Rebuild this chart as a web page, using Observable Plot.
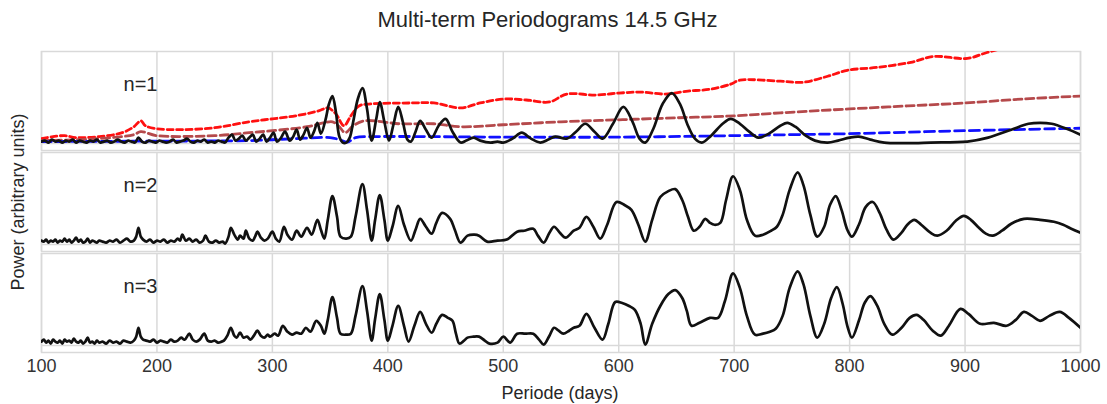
<!DOCTYPE html>
<html>
<head>
<meta charset="utf-8">
<script src="https://cdn.jsdelivr.net/npm/d3@7"></script>
<script src="https://cdn.jsdelivr.net/npm/@observablehq/plot@0.6"></script>
<style>
  html, body { margin: 0; padding: 0; background: #fff; }
  #wrap { position: relative; width: 1107px; height: 404px; font-family: "Liberation Sans", Arial, Helvetica, sans-serif; color: #262626; }
  #title { position: absolute; left: 0; width: 1095px; top: 8px; text-align: center; font-size: 22px; line-height: 24px; }
  #ylab { position: absolute; left: 18px; top: 202px; transform: translate(-50%, -50%) rotate(-90deg); font-size: 18px; white-space: nowrap; }
  #xlab { position: absolute; left: 560px; top: 393px; transform: translate(-50%, -50%); font-size: 18px; white-space: nowrap; }
  #chart { position: absolute; left: 0; top: 40px; }
</style>
</head>
<body>
<div id="wrap">
  <div id="title">Multi-term Periodograms 14.5 GHz</div>
  <div id="chart"></div>
  <div id="ylab">Power (arbitrary units)</div>
  <div id="xlab">Periode (days)</div>
</div>
<script>
// ---- data ----
const panels = ["n=1", "n=2", "n=3"];
const xTicks = [100, 200, 300, 400, 500, 600, 700, 800, 900, 1000];

const n1Period = [100,103,106,109,112,115,118,121,124,127,130,133,136,139,142,145,148,151,154,157,160,163,166,169,172,175,178,181,184,187,190,193,196,199,202,205,208,211,214,217,220,223,226,229,232,235,238,241,244,247,250,253,256,259,262,265,268,271,274,277,280,283,286,289,292,295,298,301,304,307,311,315,318,321,324,327,330,333,336,339,342,346,349,352,355,358,361,364,367,370,374,378,382,386,390,393,397,401,405,409,413,417,420,424,428,433,438,444,450,456,463,468,474,480,489,495,500,508,516,524,532,539,545,555,563,571,579,586,595,604,612,618,623,630,638,646,653,660,666,672,680,690,697,705,713,721,730,740,746,753,762,770,781,790,800,808,818,830,850,870,902,920,940,955,965,975,988,1000];
const n1Power  = [2,3,1,4,2,3,1,3,2,4,1,3,2,1,3,2,4,1,2,3,1,2,4,2,1,3,2,1,6,2,1,3,2,1,3,2,1,2,4,1,2,3,5,2,1,3,2,4,1,2,1,3,2,1,6,9,3,5,8,3,6,9,2,5,9,2,6,11,2,5,12,3,7,14,4,9,16,6,12,21,10,24,40,48,32,7,1,1,6,22,45,56,35,3,25,42,22,3,20,37,22,4,2,12,23,14,6,18,25,12,1,3,6,3,1,2,1,5,11,5,1,4,7,5,12,20,12,5,20,37,22,5,1,15,40,51,40,18,5,1,8,20,25,20,12,6,10,18,21,17,8,3,1,3,6,7,4,1,0.5,1,2,6,14,20,21,20,15,9];

const bluePeriod = [100,200,280,320,350,358,365,372,390,500,600,700,750,800,900,1000];
const bluePower  = [2,2.5,3,5,6,4,1.5,6,7,6.5,6.5,8,9,10,13,15.5];

const brownPeriod = [100,150,180,186,200,250,280,300,330,345,352,358,363,370,380,410,440,463,500,550,600,650,700,740,800,850,900,950,1000];
const brownPower  = [3,5,9,12,8,8,11,13,17,21,22,17,11,18,23,20,20,17,19,22,24,26,28,31,35,38,41,45,48];

const redPeriod = [100,110,120,130,150,170,180,186,190,200,220,250,280,300,320,340,348,355,362,368,375,385,420,440,463,480,500,520,540,555,580,600,620,640,660,680,697,705,740,760,781,798,824,853,873,902,919,940,1000];
const redPower  = [5,7,8,6,7,11,17,23,18,15,14,16,22,25,28,33,36,30,18,28,38,40,41,41,36,41,45,44,42,50,49,51,52,50,53,55,60,64,63,62,68,74,77,82,88,86,92,98,110];

const n2Period = [100,102,104,106,108,110,112,114,116,118,120,122,124,126,128,130,132,134,136,138,140,142,144,146,148,150,153,156,159,162,165,168,171,174,177,180,182,184,186,188,191,194,197,200,203,206,209,212,215,218,220,222,225,228,231,234,237,240,242,245,248,251,254,257,259,262,264,267,270,272,275,277,280,283,285,287,290,293,296,300,303,306,310,313,317,321,325,330,334,339,342,345,348,352,356,359,364,368,372,378,382,386,389,393,397,400,404,409,414,420,424,428,433,438,442,447,454,458,463,469,475,479,486,495,503,512,518,526,530,535,540,544,549,554,561,566,572,578,584,590,598,605,611,617,623,629,636,643,649,655,660,665,670,675,679,683,688,693,699,705,711,718,725,732,737,742,748,755,760,766,772,778,783,788,793,798,802,808,814,820,826,832,838,845,850,856,862,870,876,884,892,899,905,912,918,924,932,940,951,965,977,985,992,1000];
const n2Power  = [4,3,5,2,4,3,5,2,4,3,6,3,5,2,4,7,3,5,2,3,6,2,4,3,2,4,3,2,4,3,5,2,4,6,3,4,8,17,8,5,3,5,2,4,3,5,2,4,3,6,4,10,4,6,3,5,2,4,9,3,2,4,2,3,1,8,17,10,5,9,6,14,6,4,8,13,7,4,6,13,6,3,18,10,5,14,8,17,10,25,15,6,25,49,28,8,6,8,28,61,35,4,25,50,25,4,18,39,20,4,15,26,18,11,22,32,26,15,2,9,10,9,3,4,5,13,14,16,9,2,12,18,12,7,14,17,28,18,6,20,43,40,35,20,3,25,48,54,56,45,28,14,18,26,22,20,22,45,69,55,25,9,10,14,18,30,55,73,60,30,8,18,40,49,35,15,8,20,38,43,32,15,5,12,20,25,20,12,9,14,24,29,25,17,11,9,14,21,26,25,23,20,16,12];

const n3Period = [100,102,104,106,108,110,112,114,116,118,120,122,124,126,128,130,132,134,136,138,140,142,144,146,148,150,153,156,159,162,165,168,171,174,177,180,182,184,186,188,191,194,197,200,203,206,209,212,215,218,221,224,228,231,234,237,241,244,247,250,253,256,258,261,264,267,269,272,275,278,281,284,287,290,293,296,298,302,305,309,313,317,321,325,329,333,338,342,345,348,352,356,359,364,368,372,378,382,386,389,393,397,400,404,409,414,418,423,428,433,438,442,447,452,456,459,462,466,469,474,479,484,488,495,500,506,512,519,526,531,535,540,544,548,552,557,561,566,572,579,586,591,597,603,609,614,619,623,629,636,643,649,655,659,663,670,679,686,692,699,705,711,718,725,731,736,742,748,755,760,766,772,778,784,789,794,798,802,808,813,818,824,830,837,845,852,858,864,872,879,886,896,903,913,925,936,944,951,958,965,973,982,990,1000];
const n3Power  = [4,6,3,5,2,6,4,3,5,2,6,4,5,3,7,4,3,5,2,4,8,3,4,2,5,3,4,2,5,3,4,2,5,4,3,5,9,18,9,6,5,4,6,3,5,4,3,6,4,5,8,6,12,6,4,6,12,5,4,5,3,4,5,10,18,10,8,13,8,9,6,10,15,10,8,11,9,12,10,20,14,11,13,12,18,14,25,20,12,26,49,28,12,11,12,30,60,35,5,27,52,26,5,20,40,20,4,20,34,22,13,22,31,28,25,12,2,5,8,9,9,5,2,3,9,3,12,12,12,6,1,10,18,15,12,15,18,20,32,18,6,22,44,43,40,36,22,1,22,40,52,56,48,35,20,23,28,28,45,73,58,30,11,12,14,17,30,58,75,62,30,8,22,48,59,42,20,8,25,43,50,40,22,11,18,28,31,26,15,10,20,37,32,22,23,20,26,34,30,25,30,34,28,18];

// ---- build tidy tables from the arrays ----
const zip = (xs, ys, panel, series) => xs.map((x, i) => ({x, y: ys[i], panel, series}));
const black = [
  ...zip(n1Period, n1Power, "n=1", "n1"),
  ...zip(n2Period, n2Power, "n=2", "n2"),
  ...zip(n3Period, n3Power, "n=3", "n3")
];
const blue = zip(bluePeriod, bluePower, "n=1", "blue");
const brown = zip(brownPeriod, brownPower, "n=1", "brown");
const red = zip(redPeriod, redPower, "n=1", "red");

const font = '"Liberation Sans", Arial, Helvetica, sans-serif';
const gridColor = "#d9d9d9";

const chart = Plot.plot({
  width: 1107,
  height: 364,
  marginLeft: 41,
  marginRight: 27,
  marginTop: 10,
  marginBottom: 50,
  style: {fontFamily: font, fontSize: "18px", color: "#333", background: "white", overflow: "visible"},
  x: {domain: [100, 1000], ticks: xTicks, tickSize: 0, tickPadding: 7, tickFormat: d => String(d), label: null},
  y: {domain: [-7, 93], axis: null},
  fy: {domain: panels, axis: null, paddingInner: 0.0196, paddingOuter: 0},
  marks: [
    Plot.ruleX(xTicks, {stroke: gridColor, strokeWidth: 1.5}),
    Plot.ruleY([0], {stroke: gridColor, strokeWidth: 1.5}),
    Plot.frame({stroke: gridColor, strokeWidth: 1.5}),
    Plot.lineY(red, {x: "x", y: "y", fy: "panel", stroke: "#ff1010", strokeWidth: 2.8, strokeDasharray: "6,3.5", curve: "catmull-rom", clip: true}),
    Plot.lineY(brown, {x: "x", y: "y", fy: "panel", stroke: "#b5494b", strokeWidth: 2.8, strokeDasharray: "8,4", curve: "catmull-rom", clip: true}),
    Plot.lineY(blue, {x: "x", y: "y", fy: "panel", stroke: "#1010ff", strokeWidth: 2.8, strokeDasharray: "10,5", curve: "catmull-rom", clip: true}),
    Plot.lineY(black, {x: "x", y: "y", fy: "panel", z: "series", stroke: "#111", strokeWidth: 2.7, curve: "catmull-rom", clip: true}),
    Plot.text(panels, {fy: d => d, text: d => d, frameAnchor: "top-left", textAnchor: "end", dx: 116, dy: 25, fontSize: 20, fill: "#262626"})
  ]
});
document.getElementById("chart").appendChild(chart);
</script>
</body>
</html>
